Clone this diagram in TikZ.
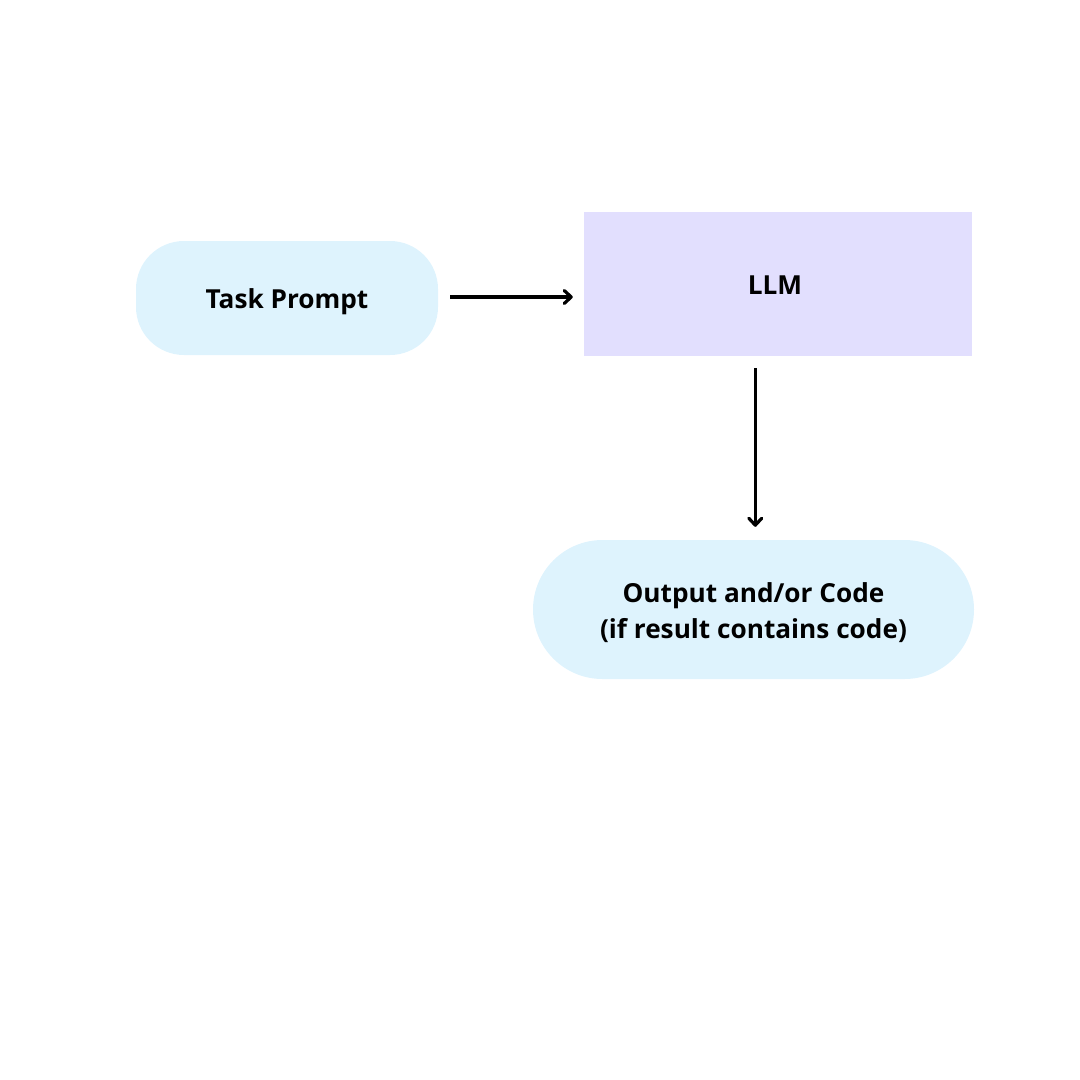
\documentclass[tikz,border=0pt]{standalone}
\usepackage{fontspec}
\setmainfont{Open Sans}
\usetikzlibrary{arrows.meta,shapes.misc}
\definecolor{pillblue}{HTML}{DEF3FD}
\definecolor{lav}{HTML}{E2DFFE}
\tikzset{
  lbl/.style={font=\fontsize{26.2}{36}\selectfont\bfseries, align=center, text=black},
  conn/.style={line width=3.2pt, -{Straight Barb[length=7pt,width=13pt,line cap=round,line join=round]}}
}
\begin{document}
\begin{tikzpicture}[x=1pt,y=-1pt]
\useasboundingbox (0,0) rectangle (1080,1080);
% shapes
\node[fill=pillblue, draw=none, rectangle, rounded corners=48pt, minimum width=302pt, minimum height=114pt, inner sep=0pt] (task) at (287,298) {};
\node[fill=lav, draw=none, rectangle, minimum width=388pt, minimum height=144pt, inner sep=0pt] (llm) at (778,284) {};
\node[fill=pillblue, draw=none, rounded rectangle, minimum width=441pt, minimum height=139pt, inner sep=0pt] (out) at (753.5,609.5) {};
% labels
\node[lbl, yshift=-4pt] (tasklbl) at (task.center) {Task Prompt};
\node[lbl, yshift=-1pt, xshift=-3pt] (llmlbl) at (llm.center) {LLM};
\node[lbl, yshift=-3.5pt] (outlbl) at (out.center) {Output and/or Code\\(if result contains code)};
% connectors
\draw[conn, shorten <=12pt, shorten >=11pt] ([yshift=1pt]task.east) -- ([yshift=1pt]task.east -| llm.west);
\draw[conn, shorten <=12pt, shorten >=13pt] ([xshift=1.8pt]out.north |- llm.south) -- ([xshift=1.8pt]out.north);
\end{tikzpicture}
\end{document}
